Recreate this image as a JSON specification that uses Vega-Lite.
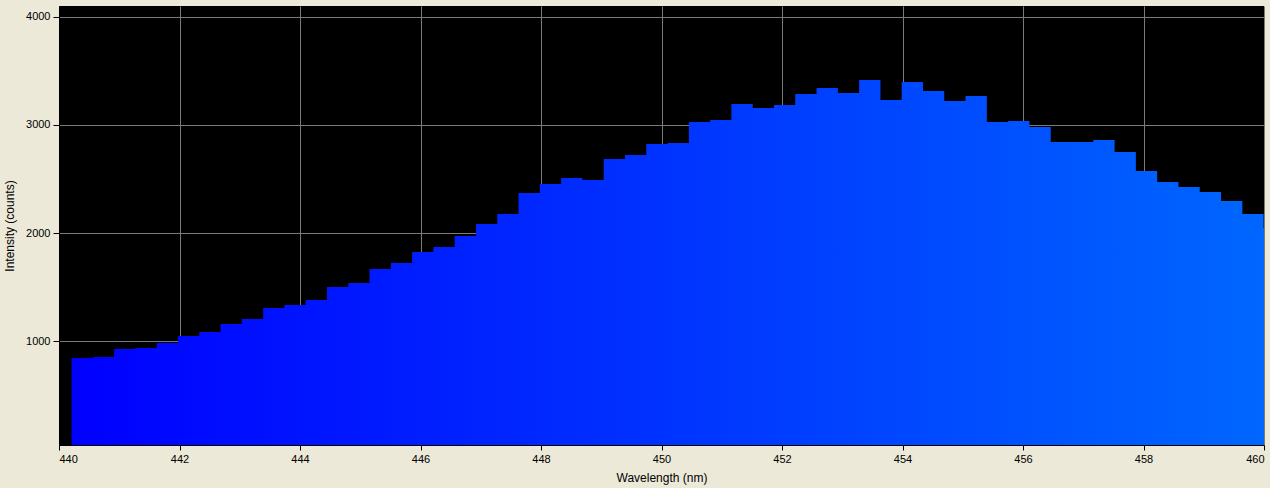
{
  "$schema": "https://vega.github.io/schema/vega-lite/v6.json",
  "width": 1205,
  "height": 439,
  "autosize": {"type": "none"},
  "padding": {"left": 59, "top": 6, "right": 6, "bottom": 43},
  "background": "#ECE9D8",
  "view": {"fill": "#000000", "stroke": null},
  "config": {"font": "Liberation Sans"},
  "data": {
    "values": [
      {"wavelength": 440.208, "counts": 845},
      {"wavelength": 440.561, "counts": 854},
      {"wavelength": 440.914, "counts": 928},
      {"wavelength": 441.268, "counts": 937},
      {"wavelength": 441.621, "counts": 983},
      {"wavelength": 441.974, "counts": 1048},
      {"wavelength": 442.328, "counts": 1085},
      {"wavelength": 442.681, "counts": 1159},
      {"wavelength": 443.034, "counts": 1206},
      {"wavelength": 443.388, "counts": 1307},
      {"wavelength": 443.741, "counts": 1335},
      {"wavelength": 444.094, "counts": 1381},
      {"wavelength": 444.447, "counts": 1501},
      {"wavelength": 444.801, "counts": 1538},
      {"wavelength": 445.154, "counts": 1668},
      {"wavelength": 445.507, "counts": 1723},
      {"wavelength": 445.861, "counts": 1825},
      {"wavelength": 446.214, "counts": 1871},
      {"wavelength": 446.567, "counts": 1973},
      {"wavelength": 446.921, "counts": 2084},
      {"wavelength": 447.274, "counts": 2177},
      {"wavelength": 447.627, "counts": 2371},
      {"wavelength": 447.981, "counts": 2454},
      {"wavelength": 448.334, "counts": 2510},
      {"wavelength": 448.687, "counts": 2491},
      {"wavelength": 449.041, "counts": 2685},
      {"wavelength": 449.394, "counts": 2722},
      {"wavelength": 449.747, "counts": 2824},
      {"wavelength": 450.100, "counts": 2834},
      {"wavelength": 450.454, "counts": 3028},
      {"wavelength": 450.807, "counts": 3046},
      {"wavelength": 451.160, "counts": 3194},
      {"wavelength": 451.514, "counts": 3157},
      {"wavelength": 451.867, "counts": 3185},
      {"wavelength": 452.220, "counts": 3287},
      {"wavelength": 452.574, "counts": 3342},
      {"wavelength": 452.927, "counts": 3296},
      {"wavelength": 453.280, "counts": 3416},
      {"wavelength": 453.634, "counts": 3231},
      {"wavelength": 453.987, "counts": 3398},
      {"wavelength": 454.340, "counts": 3315},
      {"wavelength": 454.693, "counts": 3222},
      {"wavelength": 455.047, "counts": 3268},
      {"wavelength": 455.400, "counts": 3028},
      {"wavelength": 455.753, "counts": 3037},
      {"wavelength": 456.107, "counts": 2982},
      {"wavelength": 456.460, "counts": 2843},
      {"wavelength": 456.813, "counts": 2843},
      {"wavelength": 457.167, "counts": 2861},
      {"wavelength": 457.520, "counts": 2750},
      {"wavelength": 457.873, "counts": 2574},
      {"wavelength": 458.227, "counts": 2473},
      {"wavelength": 458.580, "counts": 2427},
      {"wavelength": 458.933, "counts": 2380},
      {"wavelength": 459.287, "counts": 2297},
      {"wavelength": 459.640, "counts": 2177},
      {"wavelength": 459.993, "counts": 2047},
      {"wavelength": 460.346, "counts": 2047}
    ]
  },
  "mark": {
    "type": "area",
    "interpolate": "step-after",
    "clip": true,
    "color": {
      "gradient": "linear",
      "x1": 0, "x2": 1, "y1": 0, "y2": 0,
      "stops": [
        {"offset": 0, "color": "#0000FF"},
        {"offset": 1, "color": "#0068FF"}
      ]
    }
  },
  "encoding": {
    "x": {
      "field": "wavelength",
      "type": "quantitative",
      "scale": {"domain": [440, 460], "nice": false, "zero": false},
      "axis": {
        "values": [440, 442, 444, 446, 448, 450, 452, 454, 456, 458, 460],
        "format": "d",
        "title": "Wavelength (nm)",
        "titleFontSize": 12,
        "titleFontWeight": "normal",
        "titleColor": "#000000",
        "titlePadding": 8,
        "labelFontSize": 11,
        "labelColor": "#000000",
        "labelPadding": 3,
        "labelFlush": true,
        "tickSize": 5,
        "tickColor": "#000000",
        "domainColor": "#000000",
        "gridColor": "#7A7A7A",
        "gridOpacity": 1,
        "gridWidth": 1
      }
    },
    "y": {
      "field": "counts",
      "type": "quantitative",
      "scale": {"domain": [40, 4100], "nice": false, "zero": false},
      "axis": {
        "values": [1000, 2000, 3000, 4000],
        "format": "d",
        "title": "Intensity (counts)",
        "titleFontSize": 12,
        "titleFontWeight": "normal",
        "titleColor": "#000000",
        "titlePadding": 9,
        "labelFontSize": 11,
        "labelColor": "#000000",
        "labelPadding": 3,
        "labelFlush": false,
        "tickSize": 6,
        "tickColor": "#000000",
        "domainColor": "#000000",
        "gridColor": "#7A7A7A",
        "gridOpacity": 1,
        "gridWidth": 1
      }
    }
  }
}
